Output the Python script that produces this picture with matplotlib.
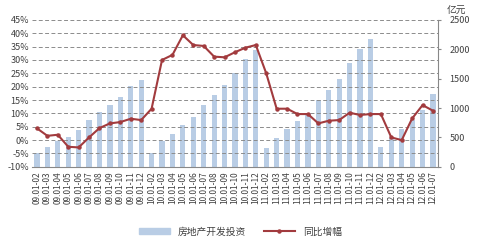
import numpy as np
import matplotlib
matplotlib.use('Agg')
import matplotlib.pyplot as plt
from matplotlib.lines import Line2D
from matplotlib.patches import Patch

plt.rcParams['font.family'] = ['Noto Sans CJK SC', 'DejaVu Sans']

months = ['01-02', '01-03', '01-04', '01-05', '01-06', '01-07',
          '01-08', '01-09', '01-10', '01-11', '01-12']
labels = ['%s.%s' % (y, m) for y in ('09', '10', '11') for m in months]
labels += ['12.' + m for m in months[:6]]

# 房地产开发投资 (亿元)
invest = [227, 335, 440, 513, 630, 790, 930, 1060, 1195, 1370, 1475,
          239, 443, 557, 704, 852, 1051, 1216, 1392, 1602, 1829, 1988,
          312, 488, 636, 778, 920, 1136, 1306, 1494, 1761, 2005, 2175,
          329, 483, 636, 795, 965, 1240]

# 同比增幅 (%)
growth = [4.4, 1.6, 2.0, -2.5, -2.75, 1.0, 4.5, 6.25, 6.75, 8.0, 7.5,
          11.75, 30.0, 31.9, 39.25, 35.6, 35.25, 31.25, 31.0, 32.9, 34.6, 35.6,
          25.0, 11.75, 11.75, 9.75, 9.75, 6.25, 7.25, 7.5, 10.25, 9.4, 9.75,
          9.75, 1.0, 0.0, 8.1, 13.1, 11.0]

bar_color = '#B9CDE5'
line_color = '#A23B3E'
text_color = '#404040'

x = np.arange(len(labels))

fig = plt.figure(figsize=(4.81, 2.40), dpi=100)
ax = fig.add_axes([0.066, 0.305, 0.845, 0.612])
ax2 = ax.twinx()

# bars on the right axis, line on the left axis drawn on top
ax2.bar(x, invest, 0.5, color=bar_color)
ax2.set_ylim(0, 2500)
ax2.set_yticks(np.arange(0, 2501, 500))

ax.set_zorder(ax2.get_zorder() + 1)
ax.patch.set_visible(False)
ax.plot(x, growth, color=line_color, lw=1.5, marker='o', ms=2.2)
ax.set_ylim(-10, 45)
ax.set_yticks(np.arange(-10, 46, 5))
ax.set_yticklabels(['%d%%' % v for v in range(-10, 46, 5)])
ax.set_xlim(-0.5, len(labels) - 0.5)
ax.set_xticks(x)
ax.set_xticklabels(labels, rotation=90)
ax.grid(axis='y', color='#8C8C8C', ls=(0, (4, 2.5)), lw=0.7)

for a in (ax, ax2):
    a.tick_params(labelsize=6.5, colors=text_color, length=0, pad=2)
    for s in a.spines.values():
        s.set_visible(False)
ax.tick_params(axis='x', labelsize=6, pad=3)
ax2.spines['right'].set_visible(True)
ax2.spines['right'].set_color('#888888')
ax2.spines['right'].set_linewidth(0.8)
ax2.tick_params(axis='y', length=2, pad=6, color='#888888')
ax.spines['bottom'].set_visible(True)
ax.spines['bottom'].set_color('#888888')
ax.spines['bottom'].set_linewidth(0.8)

fig.text(0.928, 0.955, '亿元', fontsize=7, color=text_color, ha='left', va='center')

handles = [Patch(color=bar_color), Line2D([], [], color=line_color, lw=1.5, marker='o', ms=2.2)]
fig.legend(handles, ['房地产开发投资', '同比增幅'], loc='center', bbox_to_anchor=(0.5, 0.035),
           ncol=2, frameon=False, fontsize=7, handlelength=3.2, handleheight=0.5,
           columnspacing=1.8, labelcolor=text_color)

fig.savefig('out.png', dpi=100)
